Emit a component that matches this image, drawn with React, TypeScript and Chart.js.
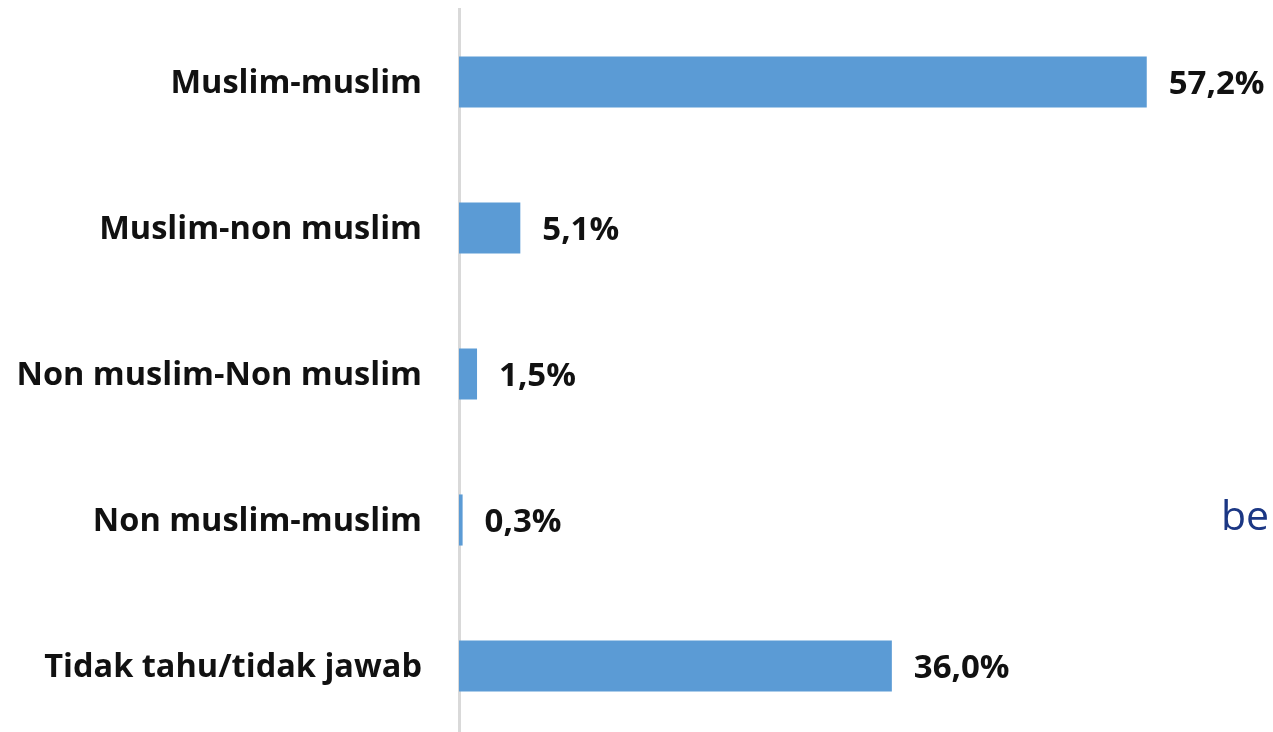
import React, { useEffect, useRef } from "react";
import { Chart, registerables } from "chart.js";

Chart.register(...registerables);

const categories = [
  "Muslim-muslim",
  "Muslim-non muslim",
  "Non muslim-Non muslim",
  "Non muslim-muslim",
  "Tidak tahu/tidak jawab",
];
const values = [57.2, 5.1, 1.5, 0.3, 36.0];
const valueLabels = ["57,2%", "5,1%", "1,5%", "0,3%", "36,0%"];

const FONT = "'Open Sans', 'DejaVu Sans', sans-serif";

const valueLabelPlugin = {
  id: "valueLabels",
  afterDatasetsDraw(chart: any) {
    const { ctx } = chart;
    const meta = chart.getDatasetMeta(0);
    ctx.save();
    ctx.font = `bold 33px ${FONT}`;
    ctx.fillStyle = "#111111";
    ctx.textAlign = "left";
    ctx.textBaseline = "middle";
    meta.data.forEach((bar: any, i: number) => {
      ctx.fillText(valueLabels[i], bar.x + 22, bar.y + 3);
    });
    ctx.restore();
  },
};

export default function App() {
  const ref = useRef<HTMLCanvasElement | null>(null);
  useEffect(() => {
    if (!ref.current) return;
    const chart = new Chart(ref.current, {
      type: "bar",
      data: {
        labels: categories,
        datasets: [
          {
            data: values,
            backgroundColor: "#5B9BD5",
            borderWidth: 0,
            categoryPercentage: 1,
            barPercentage: 0.35,
          },
        ],
      },
      options: {
        indexAxis: "y",
        animation: false,
        responsive: true,
        maintainAspectRatio: false,
        layout: { padding: { top: 9, bottom: 1, left: 0, right: 0 } },
        plugins: { legend: { display: false }, tooltip: { enabled: false } },
        scales: {
          x: { display: false, min: 0, max: 67.7 },
          y: {
            grid: { display: false, drawTicks: false },
            border: { display: true, color: "#d9d9d9", width: 3 },
            ticks: {
              color: "#111111",
              padding: 37,
              labelOffset: 2,
              font: { family: FONT, size: 32.5, weight: "bold" },
            },
            afterFit(scale: any) {
              scale.width = 459;
              scale.paddingTop = 0;
              scale.paddingBottom = 0;
            },
          },
        },
      },
      plugins: [valueLabelPlugin],
    });
    return () => chart.destroy();
  }, []);
  return (
    <div
      style={{
        position: "fixed",
        left: 0,
        top: 0,
        width: 1273,
        height: 740,
        background: "#ffffff",
      }}
    >
      <canvas ref={ref} />
      <div
        style={{
          position: "absolute",
          left: 1221,
          top: 494,
          fontFamily: FONT,
          fontSize: 41,
          color: "#1B3784",
          lineHeight: 1,
        }}
      >
        be
      </div>
    </div>
  );
}
